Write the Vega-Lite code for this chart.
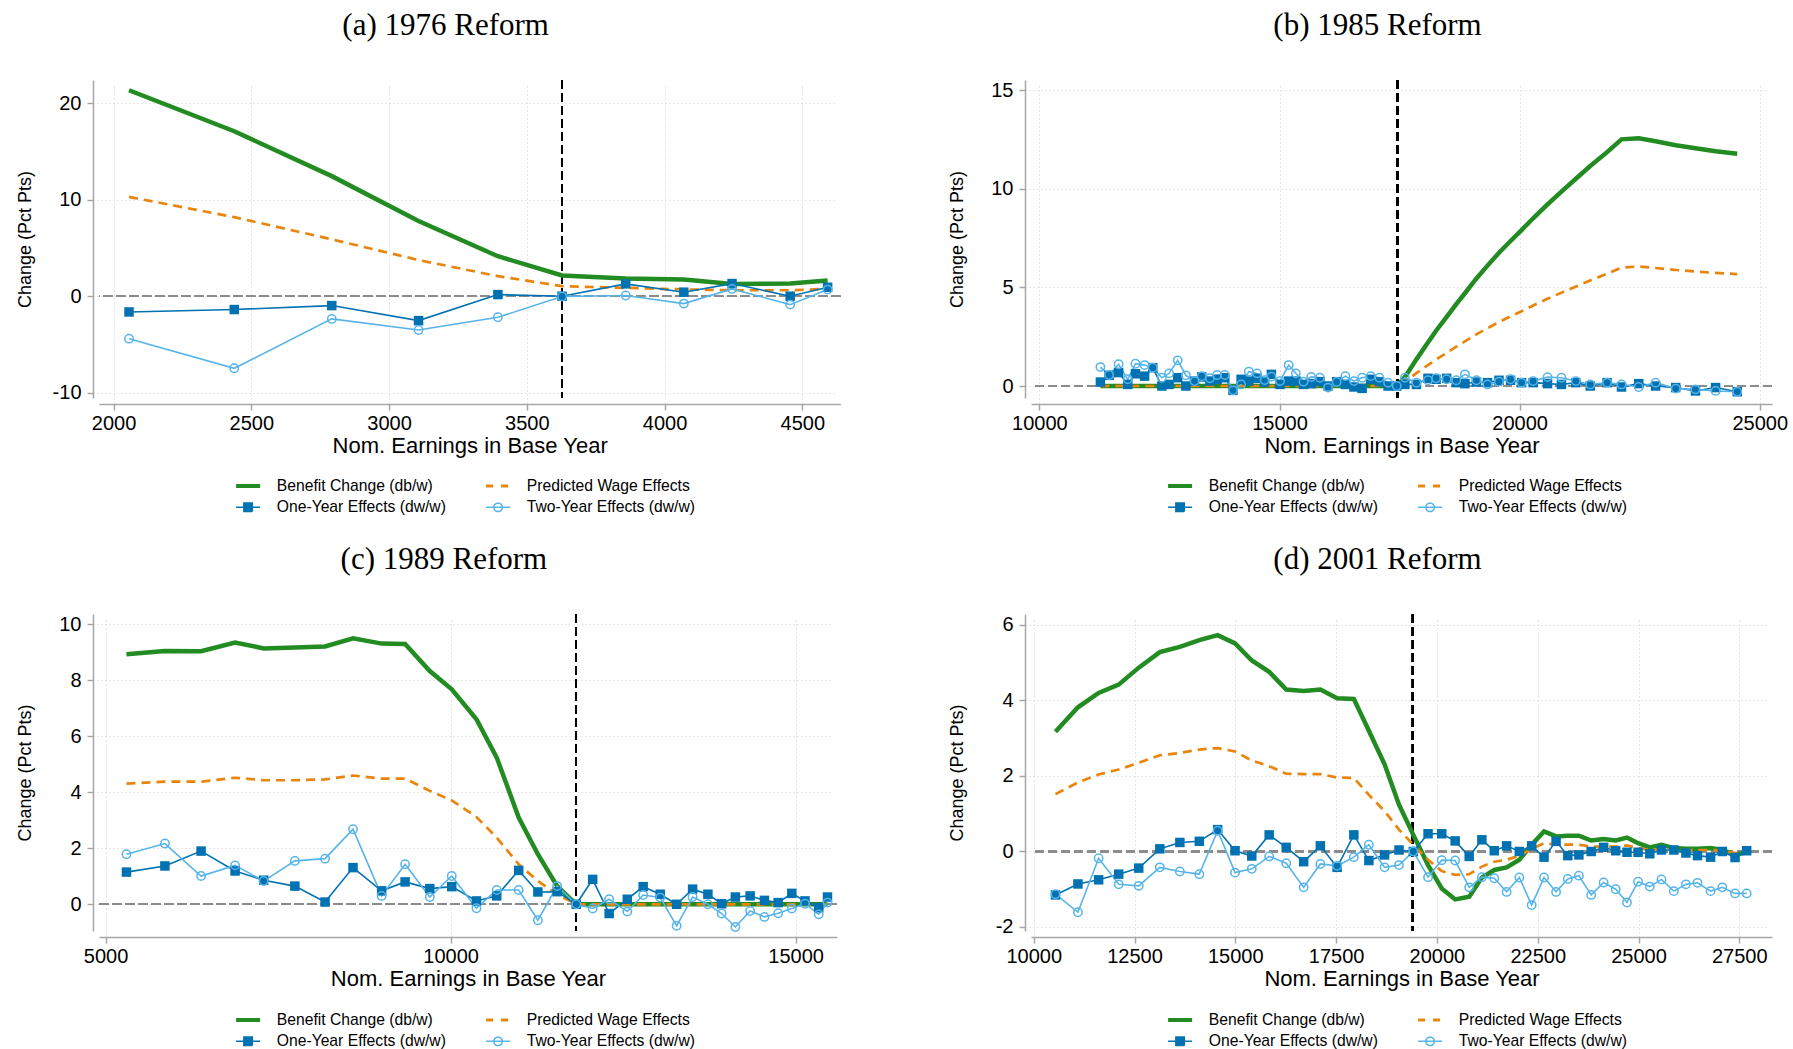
{
"$schema": "https://vega.github.io/schema/vega-lite/v6.json",
"background": "white",
"padding": {"left": 16, "top": 10, "right": 5, "bottom": 2},
"config": {
  "view": {"stroke": null},
  "font": "Liberation Sans",
  "title": {"font": "Liberation Serif", "fontSize": 31, "fontWeight": "normal", "color": "#000000", "anchor": "middle", "frame": "group", "dx": -24, "baseline": "alphabetic", "offset": 37},
  "axis": {"domainColor": "#a6a6a6", "domainWidth": 1.5, "tickColor": "#a6a6a6", "tickWidth": 1.5, "tickSize": 6, "offset": 6, "grid": true, "gridColor": "#cccccc", "gridDash": [1, 3], "gridWidth": 1, "labelFont": "Liberation Sans", "labelFontSize": 20, "labelColor": "#000000", "titleFont": "Liberation Sans", "titleFontWeight": "normal", "titleColor": "#000000"},
  "axisX": {"labelPadding": 3, "titlePadding": 2, "titleFontSize": 22, "labelAngle": 0},
  "axisY": {"labelPadding": 6, "titleFontSize": 18},
  "legend": {"orient": "none", "legendX": 137, "legendY": 398, "columns": 2, "direction": "horizontal", "labelFont": "Liberation Sans", "labelFontSize": 15.7, "labelColor": "#000000", "labelLimit": 0, "symbolSize": 100, "symbolStrokeWidth": 1.5, "symbolOffset": 4.25, "labelOffset": 20.8, "rowPadding": 4.5, "columnPadding": 37, "padding": 0}
},
"datasets": {
  "a": [
    {"x":2056,"b":21.35,"p":10.3,"o":-1.63,"t":-4.4},
    {"x":2438,"b":17.1,"p":8.2,"o":-1.38,"t":-7.47},
    {"x":2792,"b":12.45,"p":5.9,"o":-0.97,"t":-2.35},
    {"x":3107,"b":7.8,"p":3.75,"o":-2.53,"t":-3.5},
    {"x":3395,"b":4.15,"p":2.08,"o":0.17,"t":-2.18},
    {"x":3628,"b":2.15,"p":1.04,"o":0.0,"t":-0.03},
    {"x":3859,"b":1.83,"p":0.87,"o":1.28,"t":0.07},
    {"x":4070,"b":1.73,"p":0.7,"o":0.42,"t":-0.76},
    {"x":4245,"b":1.28,"p":0.62,"o":1.31,"t":0.76},
    {"x":4456,"b":1.31,"p":0.62,"o":0.0,"t":-0.87},
    {"x":4592,"b":1.63,"p":0.76,"o":0.93,"t":0.69}
  ],
  "b": [
    {"x":11270,"b":0,"p":0,"o":0.2,"t":0.96},
    {"x":11450,"b":0,"p":0,"o":0.54,"t":0.56},
    {"x":11650,"b":0,"p":0,"o":0.68,"t":1.1},
    {"x":11840,"b":0,"p":0,"o":0.08,"t":0.34},
    {"x":12000,"b":0,"p":0,"o":0.62,"t":1.13},
    {"x":12190,"b":0,"p":0,"o":0.5,"t":1.06},
    {"x":12360,"b":0,"p":0,"o":0.93,"t":0.93},
    {"x":12550,"b":0,"p":0,"o":0.0,"t":0.42},
    {"x":12700,"b":0,"p":0,"o":0.08,"t":0.64},
    {"x":12880,"b":0,"p":0,"o":0.42,"t":1.3},
    {"x":13050,"b":0,"p":0,"o":0.0,"t":0.54},
    {"x":13230,"b":0,"p":0,"o":0.25,"t":0.25},
    {"x":13380,"b":0,"p":0,"o":0.46,"t":0.5},
    {"x":13550,"b":0,"p":0,"o":0.25,"t":0.39},
    {"x":13700,"b":0,"p":0,"o":0.34,"t":0.56},
    {"x":13860,"b":0,"p":0,"o":0.42,"t":0.56},
    {"x":14030,"b":0,"p":0,"o":-0.22,"t":-0.22},
    {"x":14200,"b":0,"p":0,"o":0.34,"t":0.08},
    {"x":14360,"b":0,"p":0,"o":0.25,"t":0.73},
    {"x":14530,"b":0,"p":0,"o":0.39,"t":0.64},
    {"x":14690,"b":0,"p":0,"o":0.2,"t":0.3},
    {"x":14830,"b":0,"p":0,"o":0.59,"t":0.47},
    {"x":15010,"b":0,"p":0,"o":0.08,"t":0.25},
    {"x":15190,"b":0,"p":0,"o":0.25,"t":1.06},
    {"x":15340,"b":0,"p":0,"o":0.25,"t":0.64},
    {"x":15500,"b":0,"p":0,"o":0.08,"t":0.22},
    {"x":15660,"b":0,"p":0,"o":0.12,"t":0.46},
    {"x":15840,"b":0,"p":0,"o":0.22,"t":0.42},
    {"x":16010,"b":0,"p":0,"o":0.0,"t":-0.08},
    {"x":16190,"b":0,"p":0,"o":0.22,"t":0.2},
    {"x":16370,"b":0,"p":0,"o":0.08,"t":0.5},
    {"x":16550,"b":0,"p":0,"o":-0.05,"t":0.25},
    {"x":16720,"b":0,"p":0,"o":-0.12,"t":0.42},
    {"x":16900,"b":0,"p":0,"o":0.34,"t":0.5},
    {"x":17080,"b":0,"p":0,"o":0.22,"t":0.42},
    {"x":17260,"b":0,"p":0,"o":0.0,"t":0.17},
    {"x":17440,"b":0,"p":0,"o":0.0,"t":0.0},
    {"x":17610,"b":0.45,"p":0.22,"o":0.08,"t":0.42},
    {"x":17850,"b":1.35,"p":0.65,"o":0.08,"t":0.17},
    {"x":18090,"b":2.2,"p":1.06,"o":0.39,"t":0.29},
    {"x":18260,"b":2.8,"p":1.34,"o":0.34,"t":0.39},
    {"x":18480,"b":3.5,"p":1.68,"o":0.39,"t":0.34},
    {"x":18680,"b":4.15,"p":1.99,"o":0.17,"t":0.29},
    {"x":18860,"b":4.7,"p":2.26,"o":0.12,"t":0.59},
    {"x":19100,"b":5.45,"p":2.62,"o":0.2,"t":0.29},
    {"x":19330,"b":6.1,"p":2.93,"o":0.17,"t":0.08},
    {"x":19570,"b":6.75,"p":3.24,"o":0.29,"t":0.22},
    {"x":19810,"b":7.35,"p":3.53,"o":0.29,"t":0.34},
    {"x":20040,"b":7.9,"p":3.79,"o":0.17,"t":0.17},
    {"x":20280,"b":8.5,"p":4.08,"o":0.17,"t":0.25},
    {"x":20580,"b":9.2,"p":4.42,"o":0.12,"t":0.45},
    {"x":20870,"b":9.85,"p":4.73,"o":0.08,"t":0.42},
    {"x":21170,"b":10.5,"p":5.04,"o":0.17,"t":0.25},
    {"x":21470,"b":11.15,"p":5.35,"o":0.0,"t":0.08},
    {"x":21820,"b":11.85,"p":5.69,"o":0.17,"t":0.17},
    {"x":22120,"b":12.5,"p":6.0,"o":-0.05,"t":0.08},
    {"x":22480,"b":12.55,"p":6.06,"o":0.12,"t":-0.05},
    {"x":22830,"b":12.4,"p":5.98,"o":0.0,"t":0.17},
    {"x":23250,"b":12.2,"p":5.88,"o":-0.08,"t":-0.13},
    {"x":23660,"b":12.05,"p":5.8,"o":-0.25,"t":-0.17},
    {"x":24080,"b":11.9,"p":5.73,"o":-0.08,"t":-0.25},
    {"x":24530,"b":11.77,"p":5.67,"o":-0.29,"t":-0.29}
  ],
  "c": [
    {"x":5302,"b":8.93,"p":4.31,"o":1.15,"t":1.79},
    {"x":5859,"b":9.05,"p":4.38,"o":1.37,"t":2.17},
    {"x":6383,"b":9.04,"p":4.38,"o":1.9,"t":1.01},
    {"x":6876,"b":9.35,"p":4.52,"o":1.19,"t":1.39},
    {"x":7290,"b":9.14,"p":4.43,"o":0.86,"t":0.83},
    {"x":7742,"b":9.17,"p":4.43,"o":0.65,"t":1.55},
    {"x":8180,"b":9.21,"p":4.46,"o":0.08,"t":1.63},
    {"x":8585,"b":9.5,"p":4.6,"o":1.31,"t":2.68},
    {"x":9000,"b":9.31,"p":4.49,"o":0.48,"t":0.3},
    {"x":9340,"b":9.3,"p":4.49,"o":0.8,"t":1.43},
    {"x":9698,"b":8.33,"p":4.05,"o":0.56,"t":0.26},
    {"x":10016,"b":7.68,"p":3.71,"o":0.63,"t":1.01},
    {"x":10374,"b":6.61,"p":3.12,"o":0.12,"t":-0.14},
    {"x":10668,"b":5.24,"p":2.38,"o":0.3,"t":0.51},
    {"x":10986,"b":3.1,"p":1.43,"o":1.21,"t":0.51},
    {"x":11264,"b":1.79,"p":0.83,"o":0.44,"t":-0.57},
    {"x":11543,"b":0.65,"p":0.36,"o":0.45,"t":0.65},
    {"x":11820,"b":0,"p":0,"o":0,"t":0},
    {"x":12058,"b":0,"p":0,"o":0.89,"t":-0.15},
    {"x":12297,"b":0,"p":0,"o":-0.33,"t":0.18},
    {"x":12560,"b":0,"p":0,"o":0.18,"t":-0.26},
    {"x":12790,"b":0,"p":0,"o":0.63,"t":0.33},
    {"x":13037,"b":0,"p":0,"o":0.36,"t":0.24},
    {"x":13275,"b":0,"p":0,"o":0.0,"t":-0.77},
    {"x":13506,"b":0,"p":0,"o":0.54,"t":0.26},
    {"x":13728,"b":0,"p":0,"o":0.36,"t":0.0},
    {"x":13927,"b":0,"p":0,"o":0.02,"t":-0.33},
    {"x":14126,"b":0,"p":0,"o":0.26,"t":-0.81},
    {"x":14340,"b":0,"p":0,"o":0.3,"t":-0.24},
    {"x":14547,"b":0,"p":0,"o":0.14,"t":-0.45},
    {"x":14746,"b":0,"p":0,"o":0.06,"t":-0.32},
    {"x":14944,"b":0,"p":0,"o":0.39,"t":-0.15},
    {"x":15135,"b":0,"p":0,"o":0.12,"t":0.02},
    {"x":15334,"b":0,"p":0,"o":-0.12,"t":-0.36},
    {"x":15461,"b":0,"p":0,"o":0.26,"t":0.06}
  ],
  "d": [
    {"x":10540,"b":3.17,"p":1.52,"o":-1.15,"t":-1.13},
    {"x":11097,"b":3.82,"p":1.83,"o":-0.86,"t":-1.61},
    {"x":11610,"b":4.2,"p":2.04,"o":-0.75,"t":-0.18},
    {"x":12108,"b":4.42,"p":2.17,"o":-0.6,"t":-0.87},
    {"x":12605,"b":4.87,"p":2.35,"o":-0.44,"t":-0.91},
    {"x":13128,"b":5.28,"p":2.55,"o":0.07,"t":-0.42},
    {"x":13625,"b":5.42,"p":2.61,"o":0.24,"t":-0.53},
    {"x":14108,"b":5.6,"p":2.7,"o":0.27,"t":-0.6},
    {"x":14563,"b":5.73,"p":2.74,"o":0.58,"t":0.55},
    {"x":14994,"b":5.51,"p":2.65,"o":0.02,"t":-0.56},
    {"x":15409,"b":5.06,"p":2.41,"o":-0.12,"t":-0.46},
    {"x":15840,"b":4.76,"p":2.26,"o":0.44,"t":-0.13},
    {"x":16263,"b":4.29,"p":2.06,"o":0.11,"t":-0.31},
    {"x":16695,"b":4.25,"p":2.05,"o":-0.27,"t":-0.95},
    {"x":17110,"b":4.29,"p":2.05,"o":0.15,"t":-0.33},
    {"x":17525,"b":4.06,"p":1.96,"o":-0.42,"t":-0.38},
    {"x":17940,"b":4.04,"p":1.95,"o":0.44,"t":-0.15},
    {"x":18313,"b":3.2,"p":1.5,"o":-0.24,"t":0.18},
    {"x":18702,"b":2.31,"p":1.07,"o":-0.09,"t":-0.42},
    {"x":19060,"b":1.24,"p":0.58,"o":0.04,"t":-0.36},
    {"x":19415,"b":0.44,"p":0.18,"o":0.0,"t":0.0},
    {"x":19781,"b":-0.36,"p":-0.22,"o":0.47,"t":-0.68},
    {"x":20120,"b":-0.98,"p":-0.52,"o":0.47,"t":-0.23},
    {"x":20453,"b":-1.27,"p":-0.62,"o":0.28,"t":-0.24},
    {"x":20801,"b":-1.2,"p":-0.6,"o":-0.13,"t":-0.95},
    {"x":21115,"b":-0.69,"p":-0.4,"o":0.31,"t":-0.68},
    {"x":21423,"b":-0.49,"p":-0.27,"o":0.02,"t":-0.71},
    {"x":21729,"b":-0.42,"p":-0.22,"o":0.15,"t":-1.07},
    {"x":22045,"b":-0.22,"p":-0.11,"o":0.0,"t":-0.69},
    {"x":22351,"b":0.18,"p":0.07,"o":0.15,"t":-1.42},
    {"x":22657,"b":0.53,"p":0.22,"o":-0.15,"t":-0.69},
    {"x":22956,"b":0.4,"p":0.18,"o":0.27,"t":-1.07},
    {"x":23247,"b":0.42,"p":0.18,"o":-0.11,"t":-0.73},
    {"x":23521,"b":0.42,"p":0.18,"o":-0.09,"t":-0.64},
    {"x":23827,"b":0.29,"p":0.13,"o":0.0,"t":-1.15},
    {"x":24135,"b":0.33,"p":0.13,"o":0.11,"t":-0.82},
    {"x":24434,"b":0.29,"p":0.13,"o":0.02,"t":-1.0},
    {"x":24715,"b":0.37,"p":0.16,"o":-0.02,"t":-1.35},
    {"x":24989,"b":0.22,"p":0.09,"o":-0.02,"t":-0.8},
    {"x":25280,"b":0.11,"p":0.04,"o":-0.06,"t":-0.93},
    {"x":25569,"b":0.18,"p":0.07,"o":0.04,"t":-0.74},
    {"x":25877,"b":0.09,"p":0.04,"o":0.04,"t":-1.05},
    {"x":26176,"b":0.07,"p":0.04,"o":-0.04,"t":-0.87},
    {"x":26464,"b":0.07,"p":0.04,"o":-0.11,"t":-0.83},
    {"x":26788,"b":0.09,"p":0.04,"o":-0.15,"t":-1.05},
    {"x":27079,"b":0.04,"p":0.02,"o":0.0,"t":-0.95},
    {"x":27395,"b":-0.09,"p":-0.04,"o":-0.16,"t":-1.11},
    {"x":27683,"b":-0.02,"p":-0.02,"o":0.02,"t":-1.11}
  ]
},
"resolve": {"scale": {"color": "independent", "shape": "independent", "strokeDash": "independent"}},
"columns": 2,
"spacing": {"row": 216, "column": 190},
"bounds": "flush",
"concat": [
{
  "title": {"text": "(a) 1976 Reform"},
  "width": 741.3, "height": 318,
  "data": {"name": "a"},
  "layer": [
    {"mark": {"type": "rule", "color": "#8c8c8c", "strokeDash": [9, 4], "strokeWidth": 1.5}, "encoding": {"y": {"datum": 0, "type": "quantitative"}}},
    {"mark": {"type": "rule", "color": "#000000", "strokeDash": [9, 4], "strokeWidth": 1.5}, "encoding": {"x": {"datum": 3628, "type": "quantitative"}}},
    {"mark": {"type": "line", "color": "#228B22", "strokeWidth": 4.5}, "encoding": {
      "x": {"field": "x", "type": "quantitative", "title": "Nom. Earnings in Base Year", "scale": {"domain": [1947, 4638], "nice": false, "zero": false}, "axis": {"values": [2000, 2500, 3000, 3500, 4000, 4500], "labelExpr": "'' + datum.value"}},
      "y": {"field": "b", "type": "quantitative", "title": "Change (Pct Pts)", "scale": {"domain": [-10.55, 22.415], "nice": false, "zero": false}, "axis": {"values": [-10, 0, 10, 20], "labelExpr": "'' + datum.value", "titleX": -67.7, "titleBaseline": "middle"}}}},
    {"mark": {"type": "line", "color": "#E9850D", "strokeWidth": 2.7, "strokeDash": [9, 6]}, "encoding": {"x": {"field": "x", "type": "quantitative", "title": "Nom. Earnings in Base Year"}, "y": {"field": "p", "type": "quantitative", "title": "Change (Pct Pts)"}}},
    {"mark": {"type": "line", "color": "#0072B2", "strokeWidth": 1.6}, "encoding": {"x": {"field": "x", "type": "quantitative", "title": "Nom. Earnings in Base Year"}, "y": {"field": "o", "type": "quantitative", "title": "Change (Pct Pts)"}}},
    {"mark": {"type": "line", "color": "#56B4E9", "strokeWidth": 1.6}, "encoding": {"x": {"field": "x", "type": "quantitative", "title": "Nom. Earnings in Base Year"}, "y": {"field": "t", "type": "quantitative", "title": "Change (Pct Pts)"}}},
    {"mark": {"type": "point", "shape": "square", "filled": true, "color": "#0072B2", "size": 90, "opacity": 1}, "encoding": {"x": {"field": "x", "type": "quantitative", "title": "Nom. Earnings in Base Year"}, "y": {"field": "o", "type": "quantitative", "title": "Change (Pct Pts)"}}},
    {"mark": {"type": "point", "shape": "circle", "filled": false, "color": "#56B4E9", "size": 70, "strokeWidth": 1.5, "opacity": 1}, "encoding": {"x": {"field": "x", "type": "quantitative", "title": "Nom. Earnings in Base Year"}, "y": {"field": "t", "type": "quantitative", "title": "Change (Pct Pts)"}}},
    {"transform": [{"filter": "false"}], "mark": {"type": "point", "filled": false, "opacity": 1}, "encoding": {
      "color": {"field": "s", "type": "nominal", "title": null, "scale": {"domain": ["Benefit Change (db/w)", "Predicted Wage Effects", "One-Year Effects (dw/w)", "Two-Year Effects (dw/w)"], "range": ["#228B22", "#E9850D", "#0072B2", "#56B4E9"]}},
      "shape": {"field": "s", "type": "nominal", "title": null, "scale": {"domain": ["Benefit Change (db/w)", "Predicted Wage Effects", "One-Year Effects (dw/w)", "Two-Year Effects (dw/w)"], "range": ["M-2.4,-0.25H2.4M-2.4,0H2.4M-2.4,0.25H2.4", "M-2.4,-0.15H2.4M-2.4,0.15H2.4", "M-2.4,0H2.4M-0.85,-0.85H0.85V0.85H-0.85ZM-0.85,-0.55H0.85M-0.85,-0.25H0.85M-0.85,0.25H0.85M-0.85,0.55H0.85", "M-2.4,0H2.4M0.85,0A0.85,0.85 0 1,1 -0.85,0A0.85,0.85 0 1,1 0.85,0"]}},
      "strokeDash": {"field": "s", "type": "nominal", "title": null, "scale": {"domain": ["Benefit Change (db/w)", "Predicted Wage Effects", "One-Year Effects (dw/w)", "Two-Year Effects (dw/w)"], "range": [[1, 0], [7, 8], [1, 0], [1, 0]]}}}}
  ]
},
{
  "title": {"text": "(b) 1985 Reform"},
  "width": 741, "height": 318,
  "data": {"name": "b"},
  "layer": [
    {"mark": {"type": "rule", "color": "#8c8c8c", "strokeDash": [9, 4], "strokeWidth": 1.5}, "encoding": {"y": {"datum": 0, "type": "quantitative"}}},
    {"mark": {"type": "rule", "color": "#000000", "strokeDash": [9, 4], "strokeWidth": 1.5}, "encoding": {"x": {"datum": 17460, "type": "quantitative"}}},
    {"mark": {"type": "line", "color": "#228B22", "strokeWidth": 4.5}, "encoding": {
      "x": {"field": "x", "type": "quantitative", "title": "Nom. Earnings in Base Year", "scale": {"domain": [9825, 25254], "nice": false, "zero": false}, "axis": {"values": [10000, 15000, 20000, 25000], "labelExpr": "'' + datum.value"}},
      "y": {"field": "b", "type": "quantitative", "title": "Change (Pct Pts)", "scale": {"domain": [-0.608, 15.507], "nice": false, "zero": false}, "axis": {"values": [0, 5, 10, 15], "labelExpr": "'' + datum.value", "titleX": -67.7, "titleBaseline": "middle"}}}},
    {"mark": {"type": "line", "color": "#E9850D", "strokeWidth": 2.7, "strokeDash": [9, 6]}, "encoding": {"x": {"field": "x", "type": "quantitative", "title": "Nom. Earnings in Base Year"}, "y": {"field": "p", "type": "quantitative", "title": "Change (Pct Pts)"}}},
    {"mark": {"type": "line", "color": "#0072B2", "strokeWidth": 1.6}, "encoding": {"x": {"field": "x", "type": "quantitative", "title": "Nom. Earnings in Base Year"}, "y": {"field": "o", "type": "quantitative", "title": "Change (Pct Pts)"}}},
    {"mark": {"type": "line", "color": "#56B4E9", "strokeWidth": 1.6}, "encoding": {"x": {"field": "x", "type": "quantitative", "title": "Nom. Earnings in Base Year"}, "y": {"field": "t", "type": "quantitative", "title": "Change (Pct Pts)"}}},
    {"mark": {"type": "point", "shape": "square", "filled": true, "color": "#0072B2", "size": 90, "opacity": 1}, "encoding": {"x": {"field": "x", "type": "quantitative", "title": "Nom. Earnings in Base Year"}, "y": {"field": "o", "type": "quantitative", "title": "Change (Pct Pts)"}}},
    {"mark": {"type": "point", "shape": "circle", "filled": false, "color": "#56B4E9", "size": 70, "strokeWidth": 1.5, "opacity": 1}, "encoding": {"x": {"field": "x", "type": "quantitative", "title": "Nom. Earnings in Base Year"}, "y": {"field": "t", "type": "quantitative", "title": "Change (Pct Pts)"}}},
    {"transform": [{"filter": "false"}], "mark": {"type": "point", "filled": false, "opacity": 1}, "encoding": {
      "color": {"field": "s", "type": "nominal", "title": null, "scale": {"domain": ["Benefit Change (db/w)", "Predicted Wage Effects", "One-Year Effects (dw/w)", "Two-Year Effects (dw/w)"], "range": ["#228B22", "#E9850D", "#0072B2", "#56B4E9"]}},
      "shape": {"field": "s", "type": "nominal", "title": null, "scale": {"domain": ["Benefit Change (db/w)", "Predicted Wage Effects", "One-Year Effects (dw/w)", "Two-Year Effects (dw/w)"], "range": ["M-2.4,-0.25H2.4M-2.4,0H2.4M-2.4,0.25H2.4", "M-2.4,-0.15H2.4M-2.4,0.15H2.4", "M-2.4,0H2.4M-0.85,-0.85H0.85V0.85H-0.85ZM-0.85,-0.55H0.85M-0.85,-0.25H0.85M-0.85,0.25H0.85M-0.85,0.55H0.85", "M-2.4,0H2.4M0.85,0A0.85,0.85 0 1,1 -0.85,0A0.85,0.85 0 1,1 0.85,0"]}},
      "strokeDash": {"field": "s", "type": "nominal", "title": null, "scale": {"domain": ["Benefit Change (db/w)", "Predicted Wage Effects", "One-Year Effects (dw/w)", "Two-Year Effects (dw/w)"], "range": [[1, 0], [7, 8], [1, 0], [1, 0]]}}}}
  ]
},
{
  "title": {"text": "(c) 1989 Reform"},
  "width": 737.8, "height": 317,
  "data": {"name": "c"},
  "layer": [
    {"mark": {"type": "rule", "color": "#8c8c8c", "strokeDash": [9, 4], "strokeWidth": 1.5}, "encoding": {"y": {"datum": 0, "type": "quantitative"}}},
    {"mark": {"type": "rule", "color": "#000000", "strokeDash": [9, 4], "strokeWidth": 1.5}, "encoding": {"x": {"datum": 11820, "type": "quantitative"}}},
    {"mark": {"type": "line", "color": "#228B22", "strokeWidth": 4.5}, "encoding": {
      "x": {"field": "x", "type": "quantitative", "title": "Nom. Earnings in Base Year", "scale": {"domain": [4904, 15596], "nice": false, "zero": false}, "axis": {"values": [5000, 10000, 15000], "labelExpr": "'' + datum.value"}},
      "y": {"field": "b", "type": "quantitative", "title": "Change (Pct Pts)", "scale": {"domain": [-0.954, 10.368], "nice": false, "zero": false}, "axis": {"values": [0, 2, 4, 6, 8, 10], "labelExpr": "'' + datum.value", "titleX": -67.7, "titleBaseline": "middle"}}}},
    {"mark": {"type": "line", "color": "#E9850D", "strokeWidth": 2.7, "strokeDash": [9, 6]}, "encoding": {"x": {"field": "x", "type": "quantitative", "title": "Nom. Earnings in Base Year"}, "y": {"field": "p", "type": "quantitative", "title": "Change (Pct Pts)"}}},
    {"mark": {"type": "line", "color": "#0072B2", "strokeWidth": 1.6}, "encoding": {"x": {"field": "x", "type": "quantitative", "title": "Nom. Earnings in Base Year"}, "y": {"field": "o", "type": "quantitative", "title": "Change (Pct Pts)"}}},
    {"mark": {"type": "line", "color": "#56B4E9", "strokeWidth": 1.6}, "encoding": {"x": {"field": "x", "type": "quantitative", "title": "Nom. Earnings in Base Year"}, "y": {"field": "t", "type": "quantitative", "title": "Change (Pct Pts)"}}},
    {"mark": {"type": "point", "shape": "square", "filled": true, "color": "#0072B2", "size": 90, "opacity": 1}, "encoding": {"x": {"field": "x", "type": "quantitative", "title": "Nom. Earnings in Base Year"}, "y": {"field": "o", "type": "quantitative", "title": "Change (Pct Pts)"}}},
    {"mark": {"type": "point", "shape": "circle", "filled": false, "color": "#56B4E9", "size": 70, "strokeWidth": 1.5, "opacity": 1}, "encoding": {"x": {"field": "x", "type": "quantitative", "title": "Nom. Earnings in Base Year"}, "y": {"field": "t", "type": "quantitative", "title": "Change (Pct Pts)"}}},
    {"transform": [{"filter": "false"}], "mark": {"type": "point", "filled": false, "opacity": 1}, "encoding": {
      "color": {"field": "s", "type": "nominal", "title": null, "scale": {"domain": ["Benefit Change (db/w)", "Predicted Wage Effects", "One-Year Effects (dw/w)", "Two-Year Effects (dw/w)"], "range": ["#228B22", "#E9850D", "#0072B2", "#56B4E9"]}},
      "shape": {"field": "s", "type": "nominal", "title": null, "scale": {"domain": ["Benefit Change (db/w)", "Predicted Wage Effects", "One-Year Effects (dw/w)", "Two-Year Effects (dw/w)"], "range": ["M-2.4,-0.25H2.4M-2.4,0H2.4M-2.4,0.25H2.4", "M-2.4,-0.15H2.4M-2.4,0.15H2.4", "M-2.4,0H2.4M-0.85,-0.85H0.85V0.85H-0.85ZM-0.85,-0.55H0.85M-0.85,-0.25H0.85M-0.85,0.25H0.85M-0.85,0.55H0.85", "M-2.4,0H2.4M0.85,0A0.85,0.85 0 1,1 -0.85,0A0.85,0.85 0 1,1 0.85,0"]}},
      "strokeDash": {"field": "s", "type": "nominal", "title": null, "scale": {"domain": ["Benefit Change (db/w)", "Predicted Wage Effects", "One-Year Effects (dw/w)", "Two-Year Effects (dw/w)"], "range": [[1, 0], [7, 8], [1, 0], [1, 0]]}}}}
  ]
},
{
  "title": {"text": "(d) 2001 Reform"},
  "width": 741, "height": 317,
  "data": {"name": "d"},
  "layer": [
    {"mark": {"type": "rule", "color": "#8c8c8c", "strokeDash": [9, 4], "strokeWidth": 1.5}, "encoding": {"y": {"datum": 0, "type": "quantitative"}}},
    {"mark": {"type": "rule", "color": "#000000", "strokeDash": [9, 4], "strokeWidth": 1.5}, "encoding": {"x": {"datum": 19400, "type": "quantitative"}}},
    {"mark": {"type": "line", "color": "#228B22", "strokeWidth": 4.5}, "encoding": {
      "x": {"field": "x", "type": "quantitative", "title": "Nom. Earnings in Base Year", "scale": {"domain": [9933, 28311], "nice": false, "zero": false}, "axis": {"values": [10000, 12500, 15000, 17500, 20000, 22500, 25000, 27500], "labelExpr": "'' + datum.value"}},
      "y": {"field": "b", "type": "quantitative", "title": "Change (Pct Pts)", "scale": {"domain": [-2.106, 6.291], "nice": false, "zero": false}, "axis": {"values": [-2, 0, 2, 4, 6], "labelExpr": "'' + datum.value", "titleX": -67.7, "titleBaseline": "middle"}}}},
    {"mark": {"type": "line", "color": "#E9850D", "strokeWidth": 2.7, "strokeDash": [9, 6]}, "encoding": {"x": {"field": "x", "type": "quantitative", "title": "Nom. Earnings in Base Year"}, "y": {"field": "p", "type": "quantitative", "title": "Change (Pct Pts)"}}},
    {"mark": {"type": "line", "color": "#0072B2", "strokeWidth": 1.6}, "encoding": {"x": {"field": "x", "type": "quantitative", "title": "Nom. Earnings in Base Year"}, "y": {"field": "o", "type": "quantitative", "title": "Change (Pct Pts)"}}},
    {"mark": {"type": "line", "color": "#56B4E9", "strokeWidth": 1.6}, "encoding": {"x": {"field": "x", "type": "quantitative", "title": "Nom. Earnings in Base Year"}, "y": {"field": "t", "type": "quantitative", "title": "Change (Pct Pts)"}}},
    {"mark": {"type": "point", "shape": "square", "filled": true, "color": "#0072B2", "size": 90, "opacity": 1}, "encoding": {"x": {"field": "x", "type": "quantitative", "title": "Nom. Earnings in Base Year"}, "y": {"field": "o", "type": "quantitative", "title": "Change (Pct Pts)"}}},
    {"mark": {"type": "point", "shape": "circle", "filled": false, "color": "#56B4E9", "size": 70, "strokeWidth": 1.5, "opacity": 1}, "encoding": {"x": {"field": "x", "type": "quantitative", "title": "Nom. Earnings in Base Year"}, "y": {"field": "t", "type": "quantitative", "title": "Change (Pct Pts)"}}},
    {"transform": [{"filter": "false"}], "mark": {"type": "point", "filled": false, "opacity": 1}, "encoding": {
      "color": {"field": "s", "type": "nominal", "title": null, "scale": {"domain": ["Benefit Change (db/w)", "Predicted Wage Effects", "One-Year Effects (dw/w)", "Two-Year Effects (dw/w)"], "range": ["#228B22", "#E9850D", "#0072B2", "#56B4E9"]}},
      "shape": {"field": "s", "type": "nominal", "title": null, "scale": {"domain": ["Benefit Change (db/w)", "Predicted Wage Effects", "One-Year Effects (dw/w)", "Two-Year Effects (dw/w)"], "range": ["M-2.4,-0.25H2.4M-2.4,0H2.4M-2.4,0.25H2.4", "M-2.4,-0.15H2.4M-2.4,0.15H2.4", "M-2.4,0H2.4M-0.85,-0.85H0.85V0.85H-0.85ZM-0.85,-0.55H0.85M-0.85,-0.25H0.85M-0.85,0.25H0.85M-0.85,0.55H0.85", "M-2.4,0H2.4M0.85,0A0.85,0.85 0 1,1 -0.85,0A0.85,0.85 0 1,1 0.85,0"]}},
      "strokeDash": {"field": "s", "type": "nominal", "title": null, "scale": {"domain": ["Benefit Change (db/w)", "Predicted Wage Effects", "One-Year Effects (dw/w)", "Two-Year Effects (dw/w)"], "range": [[1, 0], [7, 8], [1, 0], [1, 0]]}}}}
  ]
}
]
}
